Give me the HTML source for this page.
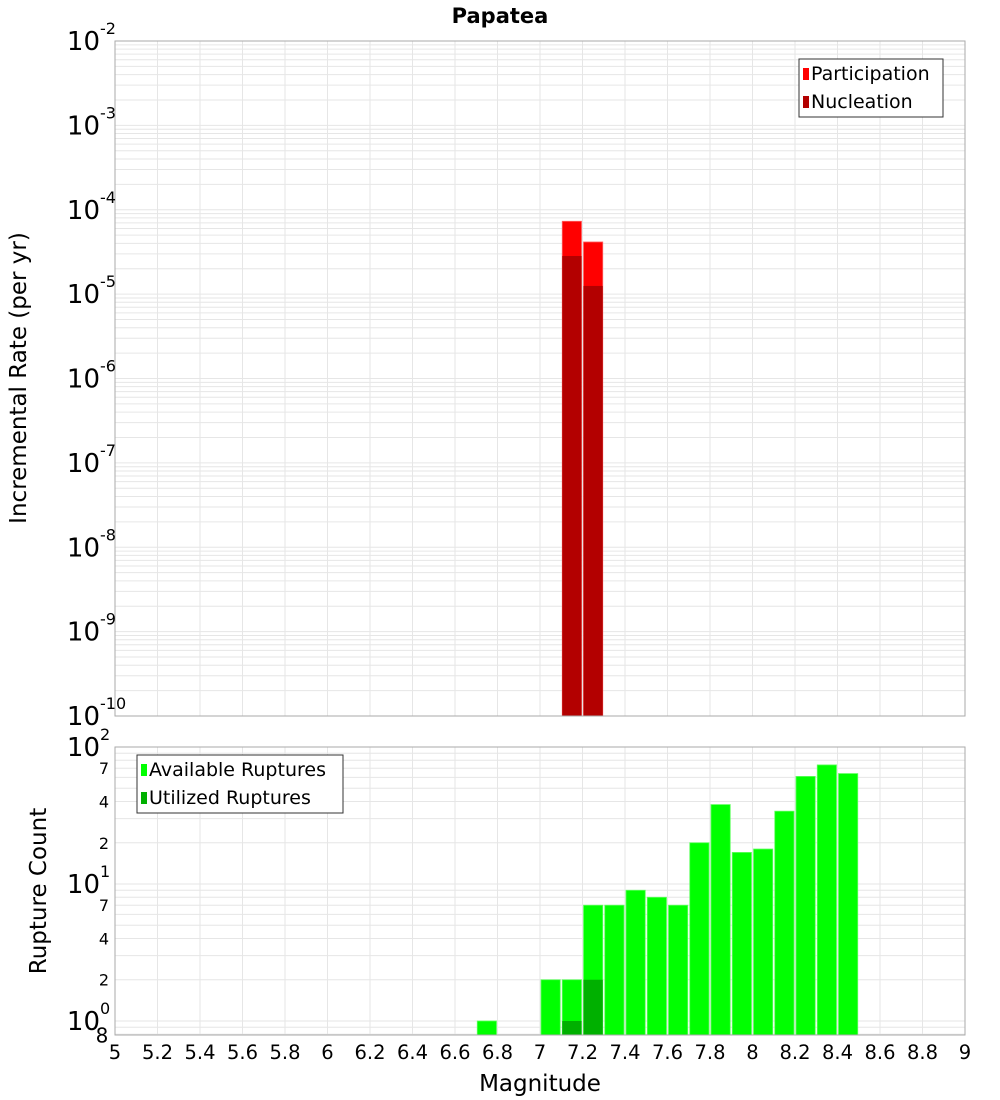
<!DOCTYPE html>
<html><head><meta charset="utf-8"><style>
body{margin:0;background:#fff}
svg{display:block;font-family:"DejaVu Sans","Liberation Sans",sans-serif}
</style></head><body>
<svg id="c" width="1000" height="1100" viewBox="0 0 1000 1100" xmlns="http://www.w3.org/2000/svg">
<text x="500" y="23" text-anchor="middle" font-size="21" font-weight="bold">Papatea</text>
<text transform="translate(26,378) rotate(-90)" text-anchor="middle" font-size="23">Incremental Rate (per yr)</text>
<text transform="translate(46,891) rotate(-90)" text-anchor="middle" font-size="23">Rupture Count</text>
<text x="540" y="1091" text-anchor="middle" font-size="23">Magnitude</text>
<g id="g"></g>
</svg>
<script>
const bins = [6.7,7.0,7.1,7.2,7.3,7.4,7.5,7.6,7.7,7.8,7.9,8.0,8.1,8.2,8.3,8.4];
const available = [1,2,2,7,7,9,8,7,20,38,17,18,34,61,74,64];
const utilized = [0,0,1,2,0,0,0,0,0,0,0,0,0,0,0,0];
const rateBins = [7.1,7.2];
const participation = [7.3e-5,4.15e-5];
const nucleation = [2.83e-5,1.25e-5];
const xTicks = [5,5.2,5.4,5.6,5.8,6,6.2,6.4,6.6,6.8,7,7.2,7.4,7.6,7.8,8,8.2,8.4,8.6,8.8,9];
const topDecades = [-2,-3,-4,-5,-6,-7,-8,-9,-10];
const botMinorLabels = [2,4,7,20,40,70];

const NS="http://www.w3.org/2000/svg", G=document.getElementById('g');
function el(t,a,txt){const e=document.createElementNS(NS,t);for(const k in a)e.setAttribute(k,a[k]);if(txt!=null)e.textContent=txt;G.appendChild(e);return e;}
const X0=115,X1=965;
const xs=m=>X0+(m-5)/4*(X1-X0);
const T0=41,T1=716; const ty=v=>T0+(-2-Math.log10(v))/8*(T1-T0);
const B0=747,B1=1035; const BMIN=0.79,BMAX=100;
const by=v=>B0+(Math.log10(BMAX)-Math.log10(v))/(Math.log10(BMAX)-Math.log10(BMIN))*(B1-B0);
const GRID="#e6e6e6";
for(let d=-10;d<-2;d++)for(let k=1;k<10;k++){const y=ty(k*Math.pow(10,d));const l=el('line',{x1:X0,x2:X1,y1:y,y2:y,stroke:GRID,'stroke-width':1});}
for(let d=-1;d<2;d++)for(let k=1;k<10;k++){const v=k*Math.pow(10,d);if(v<BMIN||v>BMAX)continue;const y=by(v);const l=el('line',{x1:X0,x2:X1,y1:y,y2:y,stroke:GRID,'stroke-width':1});}
xTicks.forEach(m=>{const x=xs(m);
 const a=el('line',{x1:x,x2:x,y1:T0,y2:T1,stroke:GRID});
 const b=el('line',{x1:x,x2:x,y1:B0,y2:B1,stroke:GRID});
 const t=el('text',{x:x,y:1059,'text-anchor':'middle','font-size':19.5},String(m));
});
const bw=(X1-X0)/40;
rateBins.forEach((m,i)=>{const x=xs(m)+1,w=bw-2;
 const p=el('rect',{x:x,y:ty(participation[i]),width:w,height:T1-ty(participation[i]),fill:'#ff0000',stroke:'#ff6060','stroke-width':0.8});
 
 const n=el('rect',{x:x,y:ty(nucleation[i]),width:w,height:T1-ty(nucleation[i]),fill:'#b30000'});
 
});
bins.forEach((m,i)=>{const x=xs(m)+1,w=bw-2;
 const a=el('rect',{x:x,y:by(available[i]),width:w,height:B1-by(available[i]),fill:'#00ff00',stroke:'#60ff60','stroke-width':0.8});
 
 if(utilized[i]>0){const u=el('rect',{x:x,y:by(utilized[i]),width:w,height:B1-by(utilized[i]),fill:'#00b000'});
 }
});
const f1=el('rect',{x:X0,y:T0,width:X1-X0,height:T1-T0,fill:'none',stroke:'#aaa'});
const f2=el('rect',{x:X0,y:B0,width:X1-X0,height:B1-B0,fill:'none',stroke:'#aaa'});
topDecades.forEach(d=>{const y=ty(Math.pow(10,d));
 const t=el('text',{x:100,y:y+9,'text-anchor':'end','font-size':26},'10');
 const s=el('text',{x:100,y:y-7,'font-size':16},String(d));
});
[2,1,0].forEach(d=>{const y=by(Math.pow(10,d));
 const t=el('text',{x:100,y:y+9,'text-anchor':'end','font-size':26},'10');
 const s=el('text',{x:100,y:y-7,'font-size':16},String(d));
});
botMinorLabels.forEach(v=>{const y=by(v);
 const t=el('text',{x:104,y:y+6,'text-anchor':'middle','font-size':16},String(v).charAt(0));});
const t8=el('text',{x:102,y:by(0.8)+8,'text-anchor':'middle','font-size':20},'8');
function legend(x,y,w,items,nm){const r=el('rect',{x:x,y:y,width:w,height:58,fill:'#fff',stroke:'#333'});
 items.forEach((it,i)=>{const yy=y+15+i*28;
 const s=el('rect',{x:x+4,y:yy-6,width:6,height:12,fill:it[1]});
 const t=el('text',{x:x+12,y:yy+6,'font-size':19},it[0]);});}
legend(799,59,144,[['Participation','#ff0000'],['Nucleation','#b30000']],'top-legend');
legend(137,755,206,[['Available Ruptures','#00ff00'],['Utilized Ruptures','#00b000']],'bottom-legend');
</script>
</body></html>
